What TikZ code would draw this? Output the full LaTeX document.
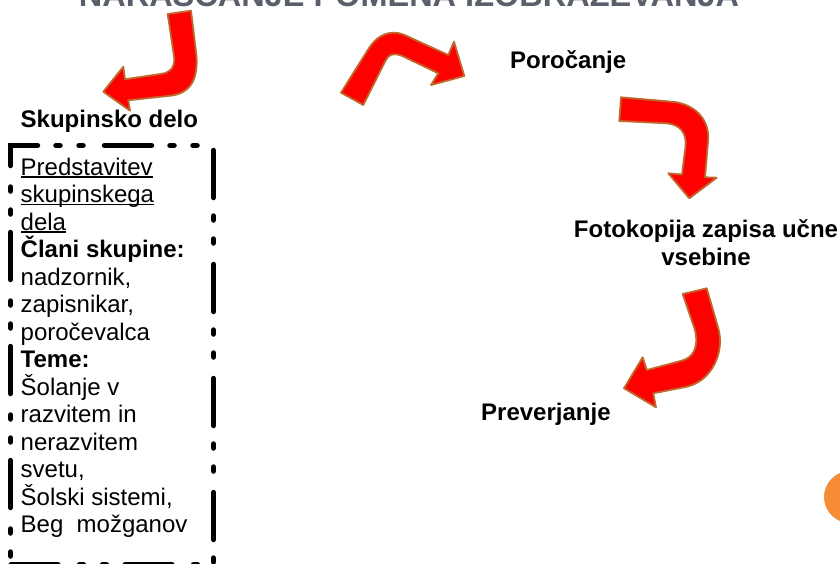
\documentclass[tikz,border=0pt]{standalone}
\usepackage{fontspec}
\setmainfont{Liberation Sans}
\usetikzlibrary{positioning}

\definecolor{titlegray}{RGB}{90,96,107}
\definecolor{arrowred}{RGB}{255,0,0}
\definecolor{arrowrim}{RGB}{190,105,45}
\definecolor{dotorange}{RGB}{247,140,55}

% underline that sits just under the baseline
\newcommand\ulword[1]{\leavevmode\setbox0\hbox{#1}\rlap{\rule[-2.8pt]{\wd0}{1.4pt}}\box0}

\begin{document}
\begin{tikzpicture}[x=1pt, y=-1pt,
    lbl/.style={inner sep=0pt, font=\bfseries\fontsize{24}{28}\selectfont},
    bent/.style={fill=arrowred, draw=arrowrim, line width=1.8pt, line join=round},
    frame/.style={line width=5.5pt, line cap=round,
        dash pattern=on 47pt off 18.5pt on 4pt off 19pt on 4pt off 21.5pt, dash phase=56.5pt}
]
\useasboundingbox (0,0) rectangle (840,563);
\clip (0,0) rectangle (840,563);

% title, only its lower edge is on the page
\node[lbl, anchor=base, text=titlegray, font=\bfseries\fontsize{32.5}{36}\selectfont] (title) at (409,6.5) {NARAŠČANJE POMENA IZOBRAŽEVANJA};

\node[lbl, anchor=base west] (skupinsko) at (20.5,127.5) {Skupinsko delo};
\node[lbl, anchor=base west] (porocanje) at (510,68) {Poročanje};
\node[lbl, anchor=base] (fotokopija) at (706,237) {\begin{minipage}[t]{300pt}\centering Fotokopija zapisa učne\\ vsebine\end{minipage}};
\node[lbl, anchor=base west] (preverjanje) at (481,420) {Preverjanje};

% group work box
\node[inner sep=0pt, anchor=base west, font=\fontsize{24}{27.5}\selectfont] (vsebina) at (20.5,175) {\begin{minipage}[t]{190pt}\raggedright
\ulword{Predstavitev}\\
\ulword{skupinskega}\\
\ulword{dela}\\
\textbf{Člani skupine:}\\
nadzornik,\\
zapisnikar,\\
poročevalca\\
\textbf{Teme:}\\
Šolanje v\\
razvitem in\\
nerazvitem\\
svetu,\\
Šolski sistemi,\\
Beg~ možganov\end{minipage}};
\draw[frame] (10.5,565) -- (10.5,145.5) -- (213.5,145.5) -- (213.5,565) -- cycle;

% bent arrows
\draw[bent] (167.7,14) -- (191,10.7) -- (196.5,56) .. controls (198,80) and (190,93) .. (171.7,95.5) -- (128.3,100.3) -- (130,110.7) -- (103.3,91.7) -- (123.3,66.7) -- (125,79.3) -- (161.7,73.8) .. controls (170,72.5) and (174.5,68) .. (174.3,58.3) -- cycle;
\draw[bent] (341,92.7) -- (366.7,51.7) .. controls (373,41) and (381,33) .. (393.3,32.7) .. controls (400,32.5) and (405,35) .. (411.7,38.3) -- (448.3,55) -- (454,41.7) -- (464.3,76) -- (431,85) -- (438.3,73.3) -- (405,57.3) .. controls (398,53.5) and (392,53) .. (388.3,56.7) .. controls (386,59) and (385,62) .. (383.3,65) -- (363.3,105) -- cycle;
\draw[bent] (621,97.3) -- (671.7,101.7) .. controls (690,103) and (708.5,115) .. (708.3,138.3) -- (705,177.3) -- (716.7,177.7) -- (689.3,198.3) -- (668.3,173.3) -- (682,174.5) -- (685.5,146.7) .. controls (687,133) and (680,124.5) .. (666.7,123.3) -- (619.3,121) -- cycle;
\draw[bent] (682.7,294) -- (706.7,288.3) -- (718.3,328.3) .. controls (725,352) and (712,381) .. (686.7,386.7) -- (653.3,393.3) -- (656,407.3) -- (624,388.3) -- (642.7,357.3) -- (646.7,370) -- (681.7,360.7) .. controls (693,357.5) and (699,348) .. (695,330) -- cycle;

% orange dot at the right edge
\fill[dotorange] (850,497) circle (26);
\end{tikzpicture}
\end{document}
